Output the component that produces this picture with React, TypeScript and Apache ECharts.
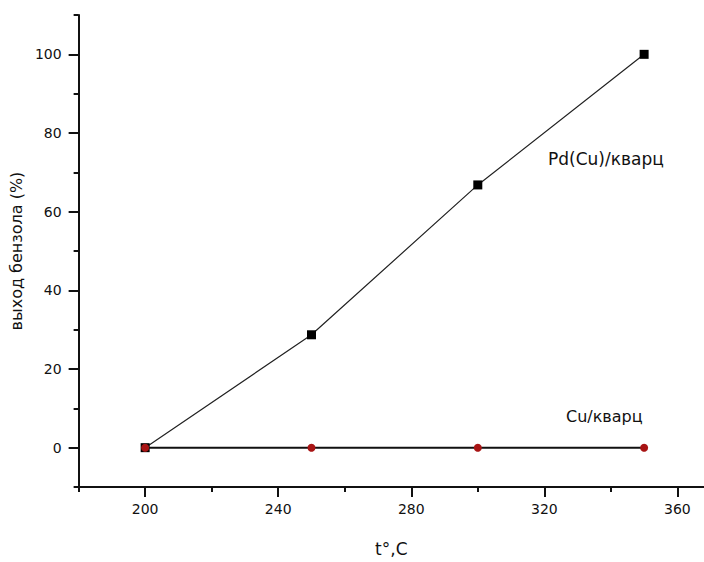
import React, { useEffect, useRef } from "react";
import * as echarts from "echarts";

const temps = [200, 250, 300, 350];
const pdCu = [0, 28.7, 66.8, 100];
const cu = [0, 0, 0, 0];
const seriesNames = ["Pd(Cu)/кварц", "Cu/кварц"];
const xTitle = "t°,C";
const yTitle = "выход бензола (%)";
const xMajor = [200, 240, 280, 320, 360];
const xMinor = [180, 220, 260, 300, 340];
const yMajor = [0, 20, 40, 60, 80, 100];
const yMinor = [-10, 10, 30, 50, 70, 90, 110];

export default function App() {
  const ref = useRef<HTMLDivElement>(null);
  useEffect(() => {
    const chart = echarts.init(ref.current!, null, { renderer: "svg" });
    const font = "DejaVu Sans, Liberation Sans, Arial, sans-serif";
    const ink = "#111";
    const baseX = {
      type: "value",
      min: 180,
      max: 368,
      interval: 20,
      splitLine: { show: false },
      gridIndex: 0,
      position: "bottom",
    };
    const baseY = {
      type: "value",
      min: -10,
      max: 110,
      interval: 10,
      splitLine: { show: false },
      gridIndex: 0,
      position: "left",
    };
    chart.setOption({
      animation: false,
      backgroundColor: "#ffffff",
      grid: { left: 78, right: 0, top: 15, bottom: 74, containLabel: false },
      xAxis: [
        {
          ...baseX,
          name: xTitle,
          nameLocation: "middle",
          nameGap: 53,
          nameTextStyle: { fontFamily: font, fontSize: 17, color: ink },
          axisLine: { onZero: false, lineStyle: { color: ink, width: 2 } },
          axisTick: { show: true, length: 10, customValues: xMajor, lineStyle: { color: ink, width: 2 } },
          axisLabel: { show: true, customValues: xMajor, margin: 15, fontFamily: font, fontSize: 14, color: ink },
        },
        {
          ...baseX,
          axisLine: { show: false, onZero: false },
          axisTick: { show: true, length: 5, customValues: xMinor, lineStyle: { color: ink, width: 2 } },
          axisLabel: { show: false },
        },
      ],
      yAxis: [
        {
          ...baseY,
          name: yTitle,
          nameLocation: "middle",
          nameGap: 54,
          nameTextStyle: { fontFamily: font, fontSize: 16, color: ink },
          axisLine: { onZero: false, lineStyle: { color: ink, width: 2 } },
          axisTick: { show: true, length: 10, customValues: yMajor, lineStyle: { color: ink, width: 2 } },
          axisLabel: { show: true, customValues: yMajor, margin: 17, fontFamily: font, fontSize: 14, color: ink },
        },
        {
          ...baseY,
          axisLine: { show: false, onZero: false },
          axisTick: { show: true, length: 5, customValues: yMinor, lineStyle: { color: ink, width: 2 } },
          axisLabel: { show: false },
        },
      ],
      graphic: [
        {
          type: "text",
          left: 548,
          top: 150,
          style: { text: seriesNames[0], fontFamily: font, fontSize: 17, fill: ink },
        },
        {
          type: "text",
          left: 566,
          top: 408,
          style: { text: seriesNames[1], fontFamily: font, fontSize: 16, fill: ink },
        },
      ],
      series: [
        {
          name: seriesNames[0],
          type: "line",
          data: temps.map((t, i) => [t, pdCu[i]]),
          symbol: "rect",
          symbolSize: 9,
          lineStyle: { color: "#222", width: 1.2 },
          itemStyle: { color: "#000" },
          z: 3,
        },
        {
          name: seriesNames[1],
          type: "line",
          data: temps.map((t, i) => [t, cu[i]]),
          symbol: "circle",
          symbolSize: 8,
          lineStyle: { color: ink, width: 2 },
          itemStyle: { color: "#a81414" },
          z: 4,
        },
      ],
    });
    return () => chart.dispose();
  }, []);
  return (
    <div
      ref={ref}
      style={{ position: "fixed", left: 0, top: 0, width: 704, height: 562 }}
    />
  );
}
